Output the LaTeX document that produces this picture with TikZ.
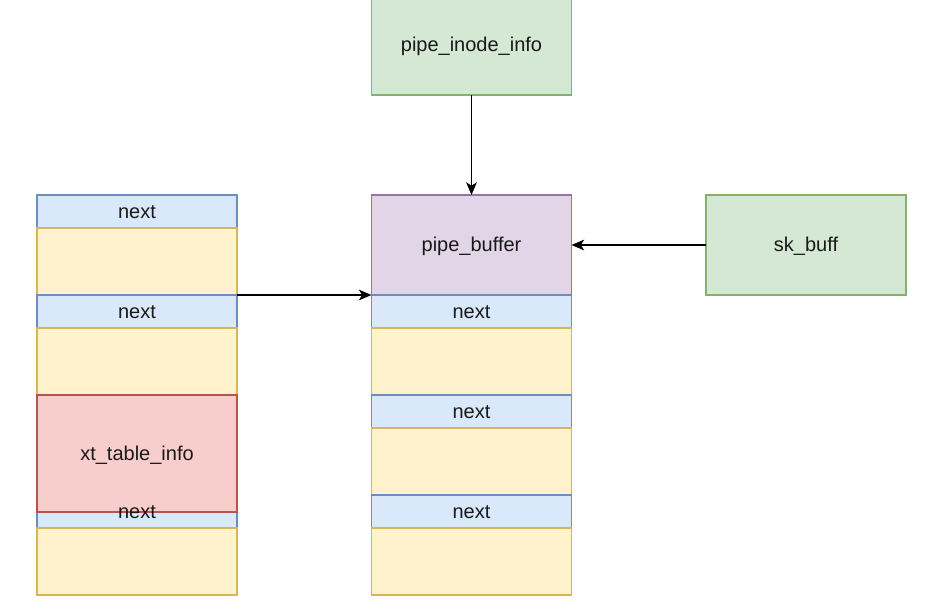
\documentclass[tikz,border=0pt]{standalone}
\usepackage{fontspec}
\setmainfont{Liberation Sans}
\usetikzlibrary{positioning,arrows.meta}

\definecolor{nextfill}{HTML}{DAE8FC}
\definecolor{nextline}{HTML}{6C8EBF}
\definecolor{datafill}{HTML}{FFF2CC}
\definecolor{dataline}{HTML}{D6B656}
\definecolor{infofill}{HTML}{F8CECC}
\definecolor{infoline}{HTML}{B85450}
\definecolor{ownerfill}{HTML}{D5E8D4}
\definecolor{ownerline}{HTML}{82B366}
\definecolor{buffill}{HTML}{E1D5E7}
\definecolor{bufline}{HTML}{9673A6}

\begin{document}
\begin{tikzpicture}[x=0.75pt, y=-0.75pt, node distance=0pt, font=\fontsize{15}{18}\selectfont]
    % Define styles
    \tikzstyle{cell} = [rectangle, draw, line width=0.9pt, inner sep=0pt, outer sep=0pt, minimum width=150pt, text=black!90, text height=12pt, text depth=2pt]
    \tikzstyle{nextcell} = [cell, fill=nextfill, draw=nextline, minimum height=24.75pt]
    \tikzstyle{datacell} = [cell, fill=datafill, draw=dataline, minimum height=50.25pt]
    \tikzstyle{owner} = [cell, fill=ownerfill, draw=ownerline, minimum height=75pt]
    \tikzstyle{bufcell} = [cell, fill=buffill, draw=bufline, minimum height=75pt]
    \tikzstyle{infocell} = [cell, fill=infofill, draw=infoline, minimum height=87.75pt]
    \tikzstyle{arrow} = [line width=1.1pt, -{Stealth[length=9.5pt, width=8pt, inset=2.5pt]}]

    \useasboundingbox (0,0) rectangle (925,613);

    % Owners (top and right)
    \node (inode) [owner] at (471.5,45) {pipe\_inode\_info};
    \node (skb) [owner] at (806,245) {sk\_buff};

    % pipe_buffer chain (middle)
    \node (pb) [bufcell] at (471.5,245) {pipe\_buffer};
    \node (pnext1) [nextcell, below=of pb] {next};
    \node (pdata1) [datacell, below=of pnext1] {};
    \node (pnext2) [nextcell, below=of pdata1] {next};
    \node (pdata2) [datacell, below=of pnext2] {};
    \node (pnext3) [nextcell, below=of pdata2] {next};
    \node (pdata3) [datacell, below=of pnext3] {};

    % Sprayed chain (left side)
    \node (lnext1) [nextcell] at (137,211.5) {next};
    \node (ldata1) [datacell, below=of lnext1] {};
    \node (lnext2) [nextcell, below=of ldata1] {next};
    \node (ldata2) [datacell, below=of lnext2] {};
    \node (lnext3) [nextcell] at (137,511.5) {};
    \node (ldata3) [datacell, below=of lnext3] {};
    \node (xtinfo) [infocell] at (137,453.5) {xt\_table\_info};
    \node (lnext3label) [inner sep=0pt, text=black!90, text height=12pt, text depth=2pt] at (lnext3.center) {next};

    % Arrows
    \draw [arrow] (inode) -- (pb);
    \draw [arrow] (skb) -- (pb);
    \draw [arrow] (lnext2.north east) -- (pb.south west);

\end{tikzpicture}
\end{document}
